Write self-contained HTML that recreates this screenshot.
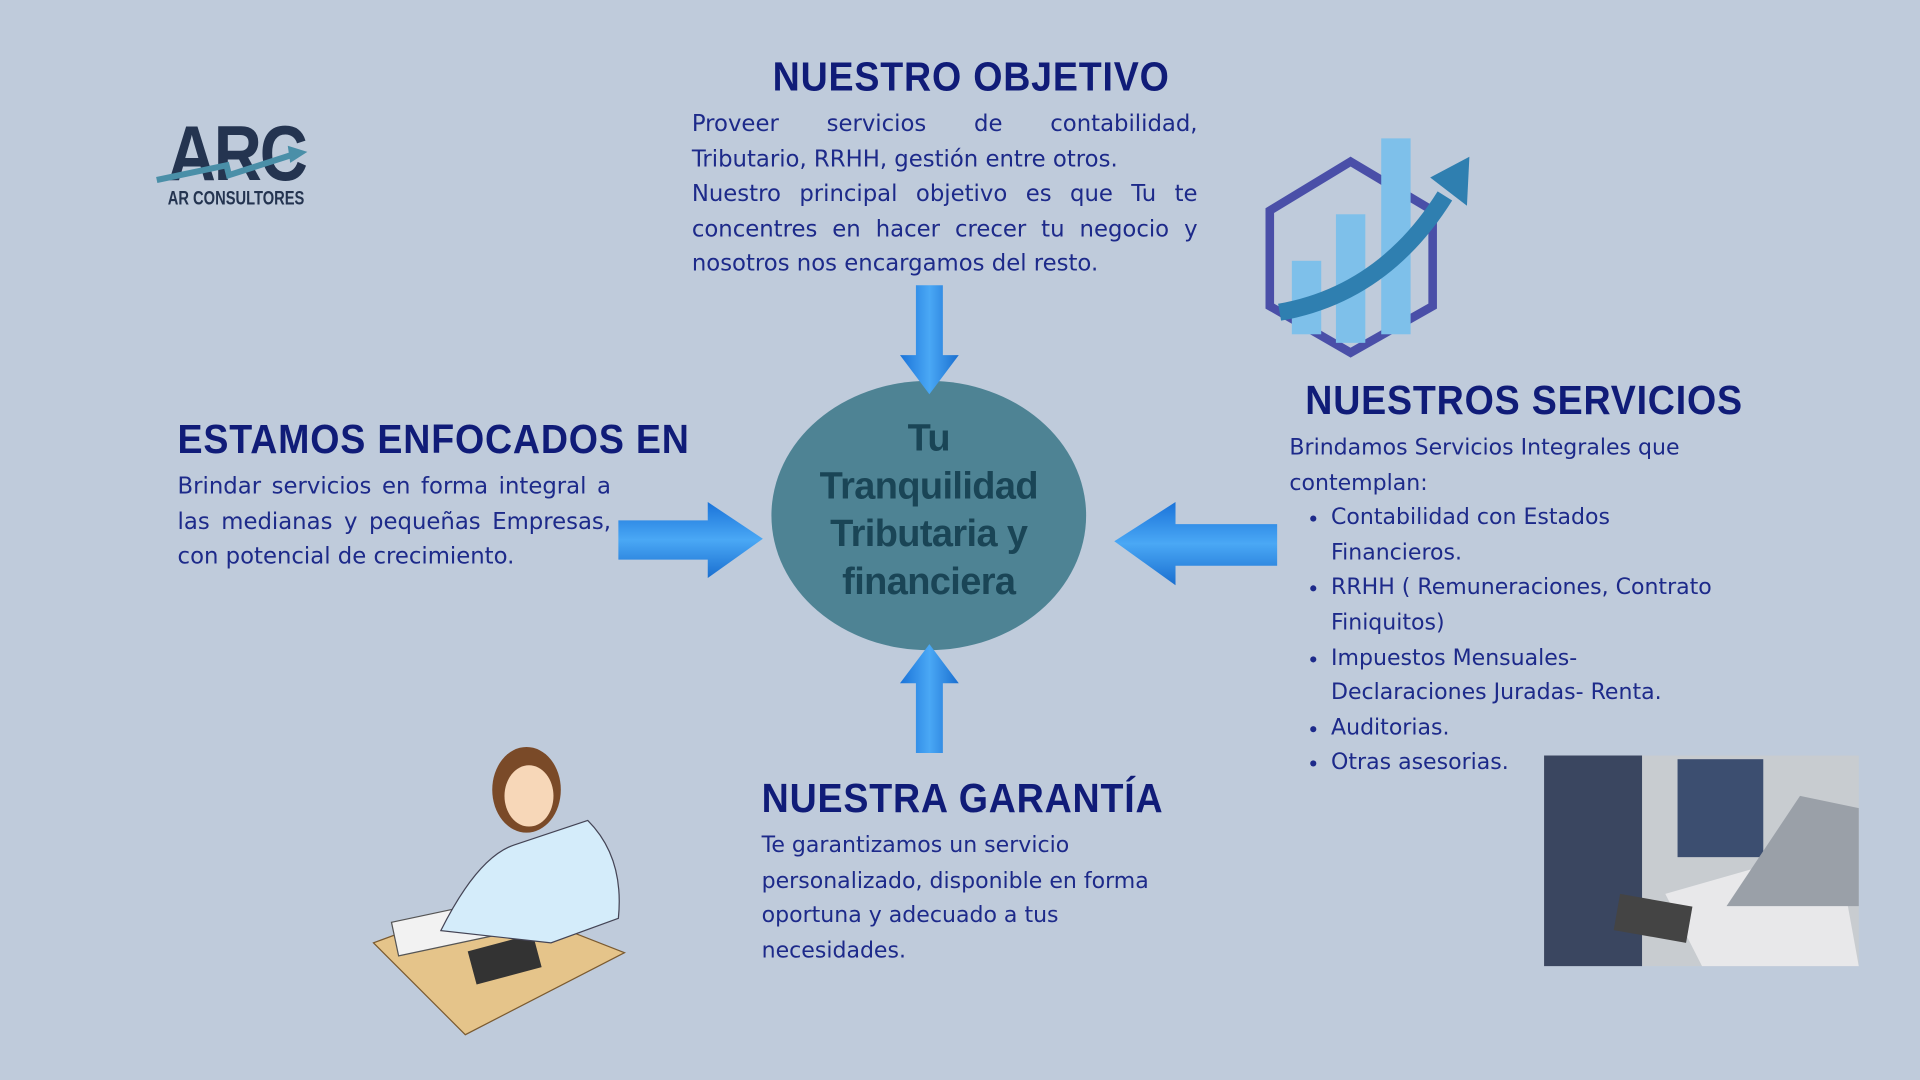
<!DOCTYPE html>
<html><head><meta charset="utf-8"><style>
html,body{margin:0;padding:0;width:1920px;height:1080px;overflow:hidden;background:#bfcbdb;}
#s{position:absolute;left:0;top:0;width:1568px;height:882px;transform:scale(1.22449);transform-origin:0 0;font-family:"Liberation Sans",sans-serif;color:#1d2a8a;}
.h{position:absolute;font-weight:bold;color:#101c78;font-size:33px;letter-spacing:0.7px;transform:scaleX(0.93);transform-origin:0 0;white-space:nowrap;}
.t{position:absolute;font-family:"DejaVu Sans",sans-serif;font-size:18px;line-height:28.6px;color:#1d2a8a;}
.j{text-align:justify;text-align-last:left;font-size:18.6px;}
ul{margin:0;padding-left:34px;}
</style></head><body><div id="s">
<!-- logo -->
<div style="position:absolute;left:137px;top:88px;font-weight:900;font-size:64px;color:#243450;letter-spacing:-2px;transform:scaleX(0.85);transform-origin:0 0;font-family:'Liberation Sans',sans-serif;">ARC</div>
<svg style="position:absolute;left:125px;top:115px" width="130" height="40"><polyline points="3,32 60,20 62,28 118,10" fill="none" stroke="#4a8fa8" stroke-width="5"/><polygon points="110,4 126,9 112,18" fill="#4a8fa8"/></svg>
<div style="position:absolute;left:137px;top:154px;font-size:16px;color:#243450;transform:scaleX(0.75);transform-origin:0 0;font-weight:bold;white-space:nowrap;">AR CONSULTORES</div>

<div class="h" style="left:631px;top:44px;">NUESTRO OBJETIVO</div>
<div class="t j" style="left:565px;top:88px;width:413px;">Proveer servicios de contabilidad, Tributario, RRHH, gestión entre otros.<br>Nuestro principal objetivo es que Tu te concentres en hacer crecer tu negocio y nosotros nos encargamos del resto.</div>

<div class="h" style="left:145px;top:340px;">ESTAMOS ENFOCADOS EN</div>
<div class="t j" style="left:145px;top:384px;width:354px;">Brindar servicios en forma integral a las medianas y pequeñas Empresas, con potencial de crecimiento.</div>

<div class="h" style="left:1066px;top:308px;">NUESTROS SERVICIOS</div>
<div class="t" style="left:1053px;top:352px;width:355px;">Brindamos Servicios Integrales que contemplan:
<ul style="padding-left:34px"><li>Contabilidad con Estados Financieros.</li><li>RRHH ( Remuneraciones, Contrato Finiquitos)</li><li>Impuestos Mensuales-Declaraciones Juradas- Renta.</li><li>Auditorias.</li><li>Otras asesorias.</li></ul></div>

<div class="h" style="left:622px;top:633px;">NUESTRA GARANTÍA</div>
<div class="t" style="left:622px;top:677px;width:345px;">Te garantizamos un servicio personalizado, disponible en forma oportuna y adecuado a tus necesidades.</div>

<!-- center -->
<div style="position:absolute;left:630px;top:311px;width:257px;height:220px;border-radius:50%;background:#4e8394;"></div>
<div style="position:absolute;left:630px;top:338px;width:257px;text-align:center;font-weight:bold;font-size:31px;line-height:39px;color:#1a4556;letter-spacing:-0.5px;">Tu<br>Tranquilidad<br>Tributaria y<br>financiera</div>

<!-- arrows -->
<svg style="position:absolute;left:0;top:0" width="1568" height="882">
<defs><linearGradient id="g" x1="0" y1="0" x2="1" y2="0"><stop offset="0" stop-color="#1a73d9"/><stop offset="0.5" stop-color="#4aa8f5"/><stop offset="1" stop-color="#1a6fd0"/></linearGradient>
<linearGradient id="gv" x1="0" y1="0" x2="0" y2="1"><stop offset="0" stop-color="#1a73d9"/><stop offset="0.5" stop-color="#4aa8f5"/><stop offset="1" stop-color="#1a6fd0"/></linearGradient></defs>
<polygon points="748,233 770,233 770,290 783,290 759,322 735,290 748,290" fill="url(#g)"/>
<polygon points="748,615 770,615 770,558 783,558 759,526 735,558 748,558" fill="url(#g)"/>
<polygon points="505,425 578,425 578,410 623,440 578,472 578,457 505,457" fill="url(#gv)"/>
<polygon points="1043,428 960,428 960,410 910,442 960,478 960,462 1043,462" fill="url(#gv)"/>
<!-- chart icon -->
<polygon points="1103,132 1170,172 1170,250 1103,288 1037,250 1037,172" fill="none" stroke="#4a4fa8" stroke-width="7"/>
<rect x="1055" y="213" width="24" height="60" fill="#7ec0ea"/>
<rect x="1091" y="175" width="24" height="105" fill="#7ec0ea"/>
<rect x="1128" y="113" width="24" height="160" fill="#7ec0ea"/>
<path d="M1045,255 Q1130,240 1180,160" fill="none" stroke="#2f7fb0" stroke-width="14"/>
<polygon points="1168,145 1200,128 1198,168" fill="#2f7fb0"/>
<!-- woman illustration -->
<polygon points="305,770 400,735 510,778 380,845" fill="#e5c48a" stroke="#7a5a30"/>
<rect x="322" y="745" width="80" height="28" fill="#f2f2f2" stroke="#555" transform="rotate(-12 360 760)"/>
<rect x="385" y="770" width="55" height="28" fill="#333" transform="rotate(-15 410 785)"/>
<path d="M360,760 Q390,700 420,690 L480,670 Q510,700 505,750 L450,770 Z" fill="#d4ecfa" stroke="#445"/>
<ellipse cx="430" cy="645" rx="28" ry="35" fill="#7a4a28"/>
<ellipse cx="432" cy="650" rx="20" ry="25" fill="#f7d7b8"/>
<!-- photo -->
<rect x="1261" y="617" width="257" height="172" fill="#c8ccd0"/>
<rect x="1261" y="617" width="80" height="172" fill="#3a4660"/>
<rect x="1370" y="620" width="70" height="80" fill="#3c4e70"/>
<polygon points="1360,730 1500,690 1518,789 1390,789" fill="#e8e8ea"/>
<polygon points="1410,740 1470,650 1518,660 1518,740" fill="#9aa0a8"/>
<rect x="1320" y="735" width="60" height="30" fill="#444" transform="rotate(10 1350 750)"/>
</svg>
</div></body></html>
